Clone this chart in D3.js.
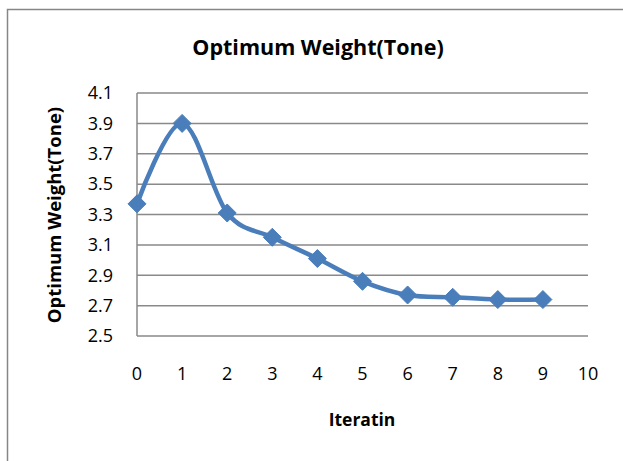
<!DOCTYPE html>
<html>
<head>
<meta charset="utf-8">
<script src="https://cdn.jsdelivr.net/npm/d3@7"></script>
<style>
  body { margin: 0; background: #fff; }
  text { font-family: "Open Sans", "Noto Sans", sans-serif; fill: #000; }
</style>
</head>
<body>
<div id="main"></div>
<script>
// data
var iterations = [0, 1, 2, 3, 4, 5, 6, 7, 8, 9];
var weights = [3.37, 3.9, 3.31, 3.15, 3.01, 2.86, 2.77, 2.755, 2.74, 2.74];
var xTicks = [0, 1, 2, 3, 4, 5, 6, 7, 8, 9, 10];
var yTicks = [2.5, 2.7, 2.9, 3.1, 3.3, 3.5, 3.7, 3.9, 4.1];

var W = 623, H = 461;
var margin = { top: 93, right: 35, bottom: 125, left: 137 },
  width = 588 - margin.left,
  height = 336 - margin.top;

var svg = d3.select("#main")
  .append("svg")
  .attr("width", W)
  .attr("height", H);

// chart border
svg.append("rect")
  .attr("x", 7.5).attr("y", 9.5)
  .attr("width", W).attr("height", H)
  .attr("fill", "none")
  .attr("stroke", "#868686")
  .attr("stroke-width", 1.5);

var g = svg.append("g")
  .attr("transform", "translate(" + margin.left + "," + margin.top + ")");

var x = d3.scaleLinear().domain([0, 10]).range([0, width]);
var y = d3.scaleLinear().domain([2.5, 4.1]).range([height, 0]);

// horizontal gridlines
g.selectAll(".grid")
  .data(yTicks)
  .enter()
  .append("line")
  .attr("x1", 0).attr("x2", width)
  .attr("y1", function (d) { return y(d); })
  .attr("y2", function (d) { return y(d); })
  .attr("stroke", "#898989")
  .attr("stroke-width", 1.5);

// left axis line
g.append("line")
  .attr("x1", 0).attr("x2", 0)
  .attr("y1", 0).attr("y2", height)
  .attr("stroke", "#898989")
  .attr("stroke-width", 1.5);

// y tick labels
g.selectAll(".ylab")
  .data(yTicks)
  .enter()
  .append("text")
  .attr("x", -24)
  .attr("y", function (d) { return y(d); })
  .attr("dy", "0.35em")
  .attr("text-anchor", "end")
  .style("font-size", "18px")
  .text(function (d) { return d3.format(".1f")(d); });

// x tick labels
g.selectAll(".xlab")
  .data(xTicks)
  .enter()
  .append("text")
  .attr("x", function (d) { return x(d); })
  .attr("y", height + 38)
  .attr("dy", "0.35em")
  .attr("text-anchor", "middle")
  .style("font-size", "18px")
  .text(function (d) { return d; });

// smoothed line
var pts = iterations.map(function (d, i) { return [d, weights[i]]; });
g.append("path")
  .datum(pts)
  .attr("fill", "none")
  .attr("stroke", "#4A7EBB")
  .attr("stroke-width", 4.5)
  .attr("stroke-linejoin", "round")
  .attr("d", d3.line()
    .curve(d3.curveCatmullRom.alpha(0))
    .x(function (d) { return x(d[0]); })
    .y(function (d) { return y(d[1]); }));

// diamond markers
g.selectAll(".mk")
  .data(pts)
  .enter()
  .append("path")
  .attr("transform", function (d) {
    return "translate(" + x(d[0]) + "," + y(d[1]) + ")";
  })
  .attr("d", "M0,-9L9,0L0,9L-9,0Z")
  .attr("fill", "#4A7EBB")
  .attr("stroke", "#4A7EBB")
  .attr("stroke-width", 1);

// titles
svg.append("text")
  .attr("x", 318).attr("y", 47)
  .attr("dy", "0.35em")
  .attr("text-anchor", "middle")
  .style("font-size", "21.5px")
  .style("font-weight", "bold")
  .text("Optimum Weight(Tone)");

svg.append("text")
  .attr("x", 362).attr("y", 420)
  .attr("dy", "0.35em")
  .attr("text-anchor", "middle")
  .style("font-size", "17.5px")
  .style("font-weight", "bold")
  .text("Iteratin");

svg.append("text")
  .attr("transform", "translate(55,215) rotate(-90)")
  .attr("dy", "0.35em")
  .attr("text-anchor", "middle")
  .style("font-size", "18.5px")
  .style("font-weight", "bold")
  .text("Optimum Weight(Tone)");
</script>
</body>
</html>
